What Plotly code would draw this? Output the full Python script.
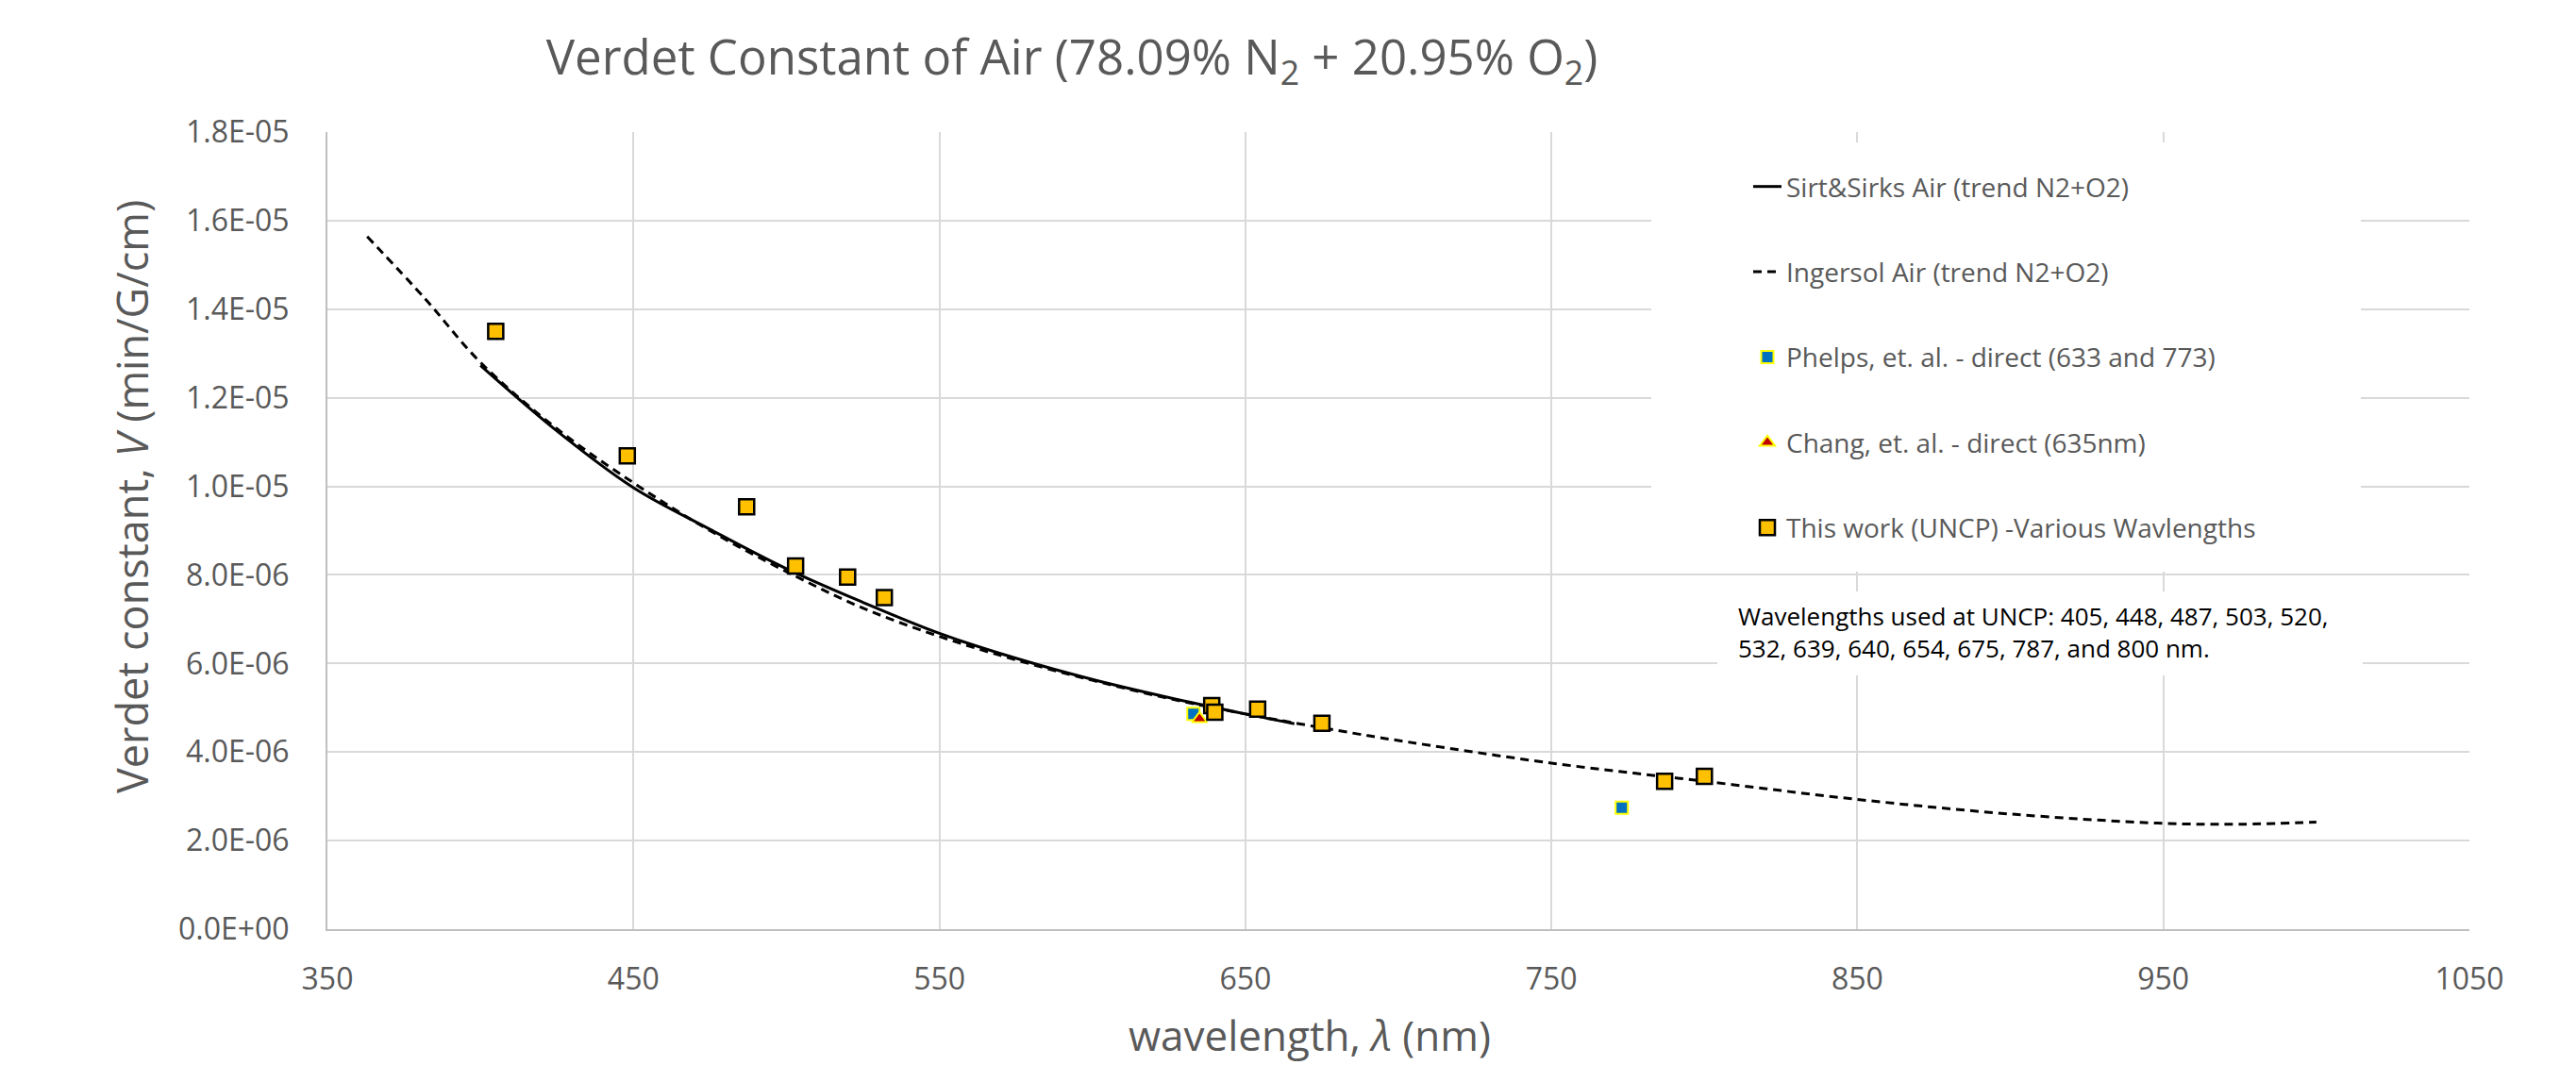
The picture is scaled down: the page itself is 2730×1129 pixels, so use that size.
import plotly.graph_objects as go

# ---- data ----
sirks_wl = [400, 425, 450, 475, 500, 525, 550, 575, 600, 625, 650, 666]
sirks_v = [1.273e-5, 1.125e-5, 9.97e-6, 9.03e-6, 8.14e-6, 7.38e-6, 6.68e-6, 6.12e-6,
           5.64e-6, 5.23e-6, 4.86e-6, 4.64e-6]

ingersol_wl = [363, 382, 400, 425, 450, 475, 503, 525, 550, 575, 600, 625, 650, 690,
               700, 750, 800, 850, 900, 950, 975, 1000]
ingersol_v = [1.564e-5, 1.423e-5, 1.28e-5, 1.13e-5, 1.008e-5, 9.0e-6, 7.97e-6, 7.25e-6,
              6.61e-6, 6.08e-6, 5.62e-6, 5.21e-6, 4.86e-6, 4.37e-6, 4.26e-6, 3.75e-6,
              3.34e-6, 2.93e-6, 2.60e-6, 2.39e-6, 2.37e-6, 2.42e-6]

phelps_wl = [633, 773]
phelps_v = [4.86e-6, 2.74e-6]

chang_wl = [635]
chang_v = [4.75e-6]

uncp_wl = [405, 448, 487, 503, 520, 532, 639, 640, 654, 675, 787, 800]
uncp_v = [1.350e-5, 1.069e-5, 9.54e-6, 8.20e-6, 7.95e-6, 7.49e-6, 5.05e-6, 4.90e-6,
          4.97e-6, 4.65e-6, 3.34e-6, 3.45e-6]

y_tickvals = [0, 2e-6, 4e-6, 6e-6, 8e-6, 1e-5, 1.2e-5, 1.4e-5, 1.6e-5, 1.8e-5]
y_ticktext = ["0.0E+00", "2.0E-06", "4.0E-06", "6.0E-06", "8.0E-06", "1.0E-05",
              "1.2E-05", "1.4E-05", "1.6E-05", "1.8E-05"]

series_names = ["Sirt&Sirks Air (trend N2+O2)", "Ingersol Air (trend N2+O2)",
                "Phelps, et. al. - direct (633 and 773)", "Chang, et. al. - direct (635nm)",
                "This work (UNCP) -Various Wavlengths"]

note_text = ("Wavelengths used at UNCP: 405, 448, 487, 503, 520,<br>"
             "532, 639, 640, 654, 675, 787, and 800 nm.")

FONT = "Open Sans"
GREY = "#595959"

X_RANGE = [350, 1050]
Y_RANGE = [0, 1.8e-5]

fig = go.Figure()

fig.add_trace(go.Scatter(x=sirks_wl, y=sirks_v, mode="lines", name=series_names[0],
                         legendgroup="g1", line=dict(color="black", width=3, shape="spline")))
fig.add_trace(go.Scatter(x=ingersol_wl, y=ingersol_v, mode="lines", name=series_names[1],
                         legendgroup="g2",
                         line=dict(color="black", width=3, dash="9px,6px", shape="spline")))
fig.add_trace(go.Scatter(x=phelps_wl, y=phelps_v, mode="markers", name=series_names[2],
                         legendgroup="g3",
                         marker=dict(symbol="square", size=13, color="#0070C0",
                                     line=dict(color="#FFFF00", width=2))))
fig.add_trace(go.Scatter(x=chang_wl, y=chang_v, mode="markers", name=series_names[3],
                         legendgroup="g4",
                         marker=dict(symbol="triangle-up", size=14, color="#C00000",
                                     line=dict(color="#FFFF00", width=2))))
fig.add_trace(go.Scatter(x=uncp_wl, y=uncp_v, mode="markers", name=series_names[4],
                         legendgroup="g5",
                         marker=dict(symbol="square", size=16, color="#FFC000",
                                     line=dict(color="black", width=2.5))))

L, R, T, B = 347, 113, 140, 144
W, H = 2730, 1129
PW, PH = W - L - R, H - T - B


def px_x(p):
    return (p - L) / PW


def px_y(p):
    return 1 - (p - T) / PH


def dx(p):
    return X_RANGE[0] + px_x(p) * (X_RANGE[1] - X_RANGE[0])


def dy(p):
    return Y_RANGE[0] + px_y(p) * (Y_RANGE[1] - Y_RANGE[0])


fig.update_layout(
    width=W, height=H,
    margin=dict(l=L, r=R, t=T, b=B, pad=0),
    paper_bgcolor="white", plot_bgcolor="white",
    font=dict(family=FONT, color=GREY),
    title=dict(text="Verdet Constant of Air (78.09% N<sub>2</sub> + 20.95% O<sub>2</sub>)",
               x=1136 / W, xanchor="center", y=1 - 61 / H, yanchor="middle",
               xref="container", yref="container",
               font=dict(family=FONT, size=51, color=GREY)),
    showlegend=True,
    legend=dict(x=px_x(1853), xanchor="left", y=px_y(173), yanchor="top",
                bgcolor="rgba(255,255,255,0)", borderwidth=0,
                font=dict(family=FONT, size=28, color=GREY),
                traceorder="grouped", tracegroupgap=51),
    xaxis=dict(range=X_RANGE, tick0=350, dtick=100, showgrid=True,
               gridcolor="#D9D9D9", gridwidth=2, showline=True, linecolor="#BFBFBF",
               linewidth=2, zeroline=False, ticks="", ticklabelstandoff=24,
               tickfont=dict(family=FONT, size=32, color=GREY)),
    yaxis=dict(range=Y_RANGE, tickvals=y_tickvals, ticktext=y_ticktext, showgrid=True,
               gridcolor="#D9D9D9", gridwidth=2, showline=True, linecolor="#BFBFBF",
               linewidth=2, zeroline=False, ticks="", ticklabelstandoff=32,
               tickfont=dict(family=FONT, size=32, color=GREY)),
)

# white panels hiding gridlines behind legend and note
fig.add_shape(type="rect", xref="x", yref="y", layer="between",
              x0=dx(1750), x1=dx(2502), y0=dy(606), y1=dy(151),
              fillcolor="white", line=dict(width=0))
fig.add_shape(type="rect", xref="x", yref="y", layer="between",
              x0=dx(1820), x1=dx(2504), y0=dy(716), y1=dy(627),
              fillcolor="white", line=dict(width=0))

fig.add_annotation(text=note_text, xref="paper", yref="paper", x=px_x(1840), y=px_y(669.5),
                   xanchor="left", yanchor="middle", align="left", showarrow=False,
                   font=dict(family=FONT, size=26, color="black"))

fig.add_annotation(text="Verdet constant, <i>V</i> (min/G/cm)", xref="paper", yref="paper",
                   x=px_x(139), y=px_y(527), textangle=-90, showarrow=False,
                   xanchor="center", yanchor="middle",
                   font=dict(family=FONT, size=45, color=GREY))
fig.add_annotation(text="wavelength, <i>λ</i> (nm)", xref="paper", yref="paper",
                   x=px_x(1388), y=px_y(1097), showarrow=False,
                   xanchor="center", yanchor="middle",
                   font=dict(family=FONT, size=44, color=GREY))

fig.write_html("out.html", config={"displayModeBar": False},
               post_script="document.body.style.margin='0';document.body.style.overflow='hidden';")
